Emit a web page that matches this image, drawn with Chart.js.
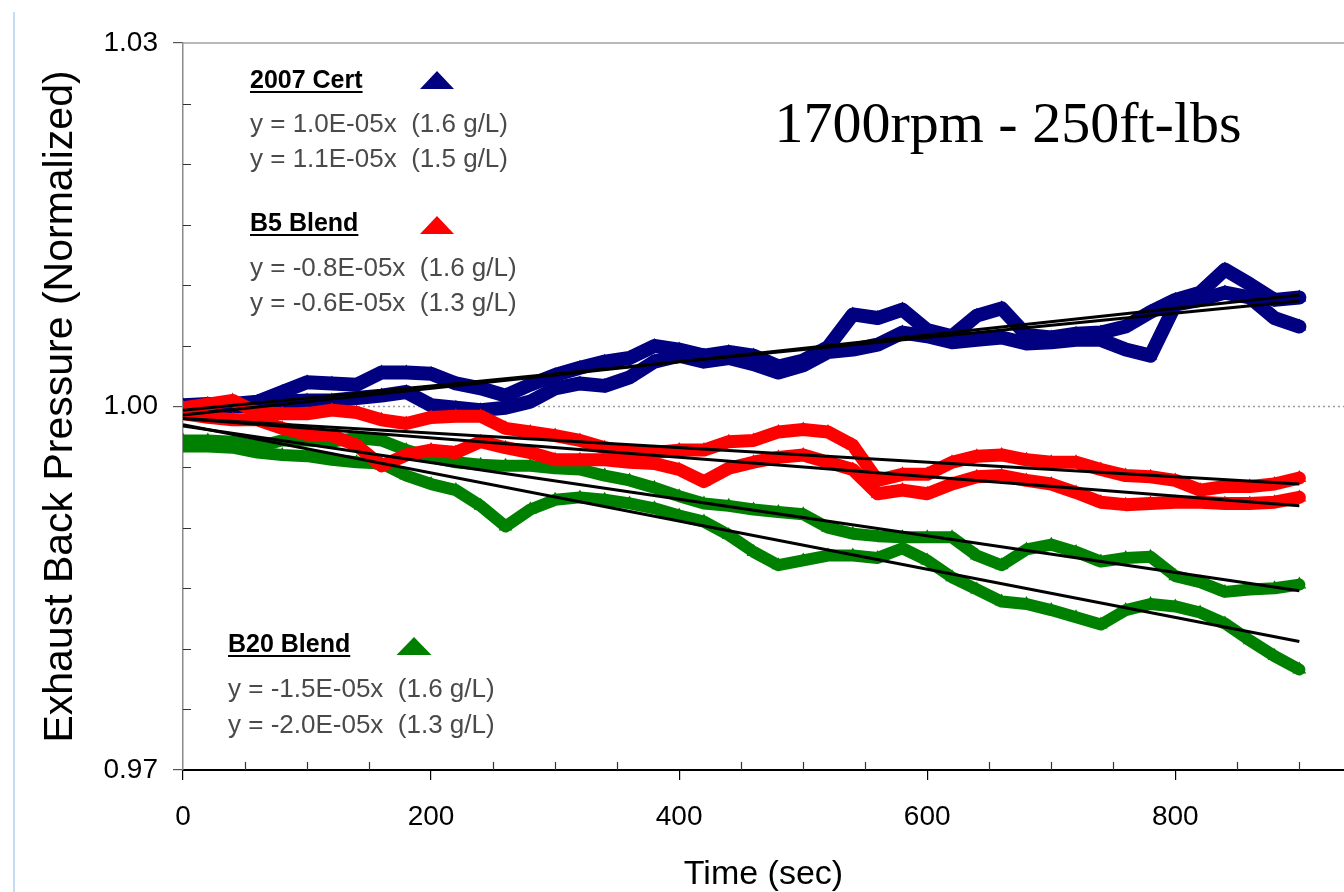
<!DOCTYPE html>
<html>
<head>
<meta charset="utf-8">
<script src="https://cdn.jsdelivr.net/npm/chart.js@4.4.1/dist/chart.umd.min.js"></script>
<style>
  html, body { margin: 0; padding: 0; background: #fff; overflow: hidden; }
  #wrap { position: relative; width: 1344px; height: 892px; overflow: hidden; }
  #frame { position: absolute; left: 13px; top: 12px; width: 2px; height: 880px; background: #c6dcf2; }
  canvas { position: absolute; left: 0; top: 0; }
</style>
</head>
<body>
<div id="wrap">
  <canvas id="chart" width="1352" height="892"></canvas>
  <div id="frame"></div>
</div>
<script>
// sample times (sec)
const times = [0, 20, 40, 60, 80, 100, 120, 140, 160, 180, 200, 220, 240, 260, 280, 300, 320, 340, 360, 380,
  400, 420, 440, 460, 480, 500, 520, 540, 560, 580, 600, 620, 640, 660, 680, 700, 720, 740, 760, 780,
  800, 820, 840, 860, 880, 900]

// 2007 Cert runs
const certA = [1.0001, 1.0002, 1.0002, 1.0004, 1.0012, 1.0020, 1.0019, 1.0018, 1.0028, 1.0028,
  1.0027, 1.0019, 1.0015, 1.0009, 1.0018, 1.0026, 1.0032, 1.0037, 1.0040, 1.0050,
  1.0047, 1.0042, 1.0045, 1.0042, 1.0033, 1.0038, 1.0049, 1.0076, 1.0073, 1.0080,
  1.0063, 1.0058, 1.0075, 1.0081, 1.0059, 1.0057, 1.0060, 1.0061, 1.0066, 1.0078,
  1.0088, 1.0094, 1.0113, 1.0101, 1.0088, 1.0090]
const certB = [0.9999, 1.0000, 1.0000, 1.0001, 1.0004, 1.0005, 1.0005, 1.0007, 1.0009, 1.0012,
  1.0001, 0.9999, 0.9997, 0.9999, 1.0004, 1.0015, 1.0019, 1.0017, 1.0024, 1.0037,
  1.0042, 1.0037, 1.0040, 1.0035, 1.0028, 1.0034, 1.0045, 1.0047, 1.0051, 1.0061,
  1.0058, 1.0053, 1.0055, 1.0057, 1.0052, 1.0053, 1.0055, 1.0055, 1.0047, 1.0042,
  1.0084, 1.0088, 1.0094, 1.0090, 1.0073, 1.0066]

// B5 Blend runs
const b5Upper = [0.9999, 1.0002, 1.0005, 0.9995, 0.9994, 0.9994, 0.9997, 0.9995, 0.9989, 0.9986,
  0.9991, 0.9992, 0.9992, 0.9982, 0.9979, 0.9976, 0.9972, 0.9966, 0.9962, 0.9962,
  0.9964, 0.9964, 0.9971, 0.9972, 0.9979, 0.9981, 0.9979, 0.9968, 0.9939, 0.9944,
  0.9944, 0.9954, 0.9959, 0.9960, 0.9956, 0.9954, 0.9954, 0.9948, 0.9943, 0.9942,
  0.9939, 0.9931, 0.9934, 0.9934, 0.9936, 0.9941]
const b5Lower = [0.9994, 0.9991, 0.9989, 0.9989, 0.9982, 0.9977, 0.9976, 0.9968, 0.9951, 0.9960,
  0.9964, 0.9962, 0.9971, 0.9966, 0.9962, 0.9956, 0.9956, 0.9956, 0.9954, 0.9953,
  0.9948, 0.9938, 0.9949, 0.9954, 0.9958, 0.9960, 0.9954, 0.9948, 0.9928, 0.9931,
  0.9928, 0.9936, 0.9942, 0.9943, 0.9939, 0.9936, 0.9929, 0.9921, 0.9919, 0.9920,
  0.9921, 0.9921, 0.9920, 0.9920, 0.9921, 0.9925]

// B20 Blend runs
const b20Upper = [0.9972, 0.9972, 0.9971, 0.9967, 0.9972, 0.9972, 0.9971, 0.9974, 0.9972, 0.9964,
  0.9958, 0.9954, 0.9952, 0.9951, 0.9951, 0.9949, 0.9948, 0.9943, 0.9939, 0.9933,
  0.9926, 0.9920, 0.9918, 0.9915, 0.9913, 0.9911, 0.9900, 0.9895, 0.9893, 0.9892,
  0.9892, 0.9892, 0.9877, 0.9869, 0.9882, 0.9886, 0.9880, 0.9872, 0.9875, 0.9876,
  0.9860, 0.9855, 0.9847, 0.9849, 0.9850, 0.9853]
const b20Lower = [0.9967, 0.9967, 0.9966, 0.9962, 0.9960, 0.9959, 0.9956, 0.9954, 0.9953, 0.9943,
  0.9936, 0.9931, 0.9918, 0.9901, 0.9915, 0.9923, 0.9925, 0.9923, 0.9920, 0.9916,
  0.9910, 0.9905, 0.9894, 0.9880, 0.9869, 0.9873, 0.9877, 0.9877, 0.9875, 0.9883,
  0.9873, 0.9859, 0.9849, 0.9839, 0.9837, 0.9832, 0.9826, 0.9820, 0.9832, 0.9837,
  0.9835, 0.9830, 0.9821, 0.9807, 0.9794, 0.9783]

// linear fits, start and end of run
const fitTimes = [0, 900]
const certFitA = [0.9993, 1.0092]
const certFitB = [0.9997, 1.0087]
const b5FitA = [0.9990, 0.9918]
const b5FitB = [0.9990, 0.9936]
const b20FitA = [0.9984, 0.9848]
const b20FitB = [0.9985, 0.9806]

const refTimes = [0, 936]
const refLine = [1.00, 1.00]

const xTicks = [0, 200, 400, 600, 800]
const yTicks = [0.97, 1.00, 1.03]
const X_MAX = 936

const FONT = '"Liberation Sans", Arial, sans-serif'
const NAVY = '#000080'
const RED = '#ff0000'
const GREEN = '#008000'

const toPts = (xs, ys) => xs.map((x, i) => ({ x, y: ys[i] }))

function band(label, values, color, width) {
  return {
    label,
    data: toPts(times, values),
    showLine: true,
    borderColor: color,
    backgroundColor: color,
    borderWidth: width,
    borderJoinStyle: 'round',
    borderCapStyle: 'round',
    pointStyle: 'triangle',
    pointRadius: 8,
    pointBorderWidth: 0,
    pointBackgroundColor: color,
    pointBorderColor: color,
    tension: 0
  }
}

function fit(label, values) {
  return {
    label,
    data: toPts(fitTimes, values),
    showLine: true,
    borderColor: '#000',
    borderWidth: 3,
    pointRadius: 0,
    tension: 0
  }
}

// minor tick marks + plot border
const axisExtras = {
  id: 'axisExtras',
  afterDraw(chart) {
    const { ctx, chartArea: a, scales: { x, y } } = chart
    ctx.save()
    ctx.strokeStyle = '#333'
    ctx.lineWidth = 1.2
    ctx.beginPath()
    for (let v = 50; v <= X_MAX; v += 50) {
      if (v % 200 === 0) continue
      const px = Math.round(x.getPixelForValue(v)) + 0.5
      ctx.moveTo(px, a.bottom)
      ctx.lineTo(px, a.bottom - 8)
    }
    for (let k = 1; k < 12; k++) {
      if (k === 6) continue
      const py = Math.round(y.getPixelForValue(0.97 + k * 0.005)) + 0.5
      ctx.moveTo(a.left, py)
      ctx.lineTo(a.left + 8, py)
    }
    ctx.stroke()

    ctx.strokeStyle = '#a0a0a0'
    ctx.lineWidth = 1.5
    ctx.beginPath()
    ctx.moveTo(a.left, a.top)
    ctx.lineTo(a.right, a.top)
    ctx.stroke()
    ctx.restore()
  }
}

// text boxes and series markers drawn on the plot
const notes = {
  id: 'notes',
  afterDraw(chart) {
    const ctx = chart.ctx
    ctx.save()

    const header = (text, x, y) => {
      ctx.font = 'bold 25px ' + FONT
      ctx.fillStyle = '#000'
      ctx.textAlign = 'left'
      ctx.textBaseline = 'alphabetic'
      ctx.fillText(text, x, y)
      const w = ctx.measureText(text).width
      ctx.fillRect(x, y + 3, w, 2)
    }
    const eq = (text, x, y) => {
      ctx.font = '26px ' + FONT
      ctx.fillStyle = '#4a4a4a'
      ctx.textAlign = 'left'
      ctx.textBaseline = 'alphabetic'
      ctx.fillText(text, x, y)
    }
    const tri = (cx, cy, w, h, color) => {
      ctx.fillStyle = color
      ctx.beginPath()
      ctx.moveTo(cx - w / 2, cy + h / 2)
      ctx.lineTo(cx + w / 2, cy + h / 2)
      ctx.lineTo(cx, cy - h / 2)
      ctx.closePath()
      ctx.fill()
    }

    header('2007 Cert', 250, 88)
    tri(437, 80, 34, 18, NAVY)
    eq('y = 1.0E-05x  (1.6 g/L)', 250, 132)
    eq('y = 1.1E-05x  (1.5 g/L)', 250, 167)

    header('B5 Blend', 250, 231)
    tri(437, 225, 34, 18, RED)
    eq('y = -0.8E-05x  (1.6 g/L)', 250, 276)
    eq('y = -0.6E-05x  (1.3 g/L)', 250, 311)

    header('B20 Blend', 228, 652)
    tri(414, 646, 35, 18, GREEN)
    eq('y = -1.5E-05x  (1.6 g/L)', 228, 697)
    eq('y = -2.0E-05x  (1.3 g/L)', 228, 733)

    ctx.font = '58px "Liberation Serif", "Times New Roman", serif'
    ctx.fillStyle = '#000'
    ctx.textAlign = 'center'
    ctx.fillText('1700rpm - 250ft-lbs', 1008, 142)
    ctx.restore()
  }
}

new Chart(document.getElementById('chart'), {
  type: 'scatter',
  data: {
    datasets: [
      fit('Cert fit 1.5', certFitA),
      fit('Cert fit 1.6', certFitB),
      fit('B5 fit 1.6', b5FitA),
      fit('B5 fit 1.3', b5FitB),
      fit('B20 fit 1.6', b20FitA),
      fit('B20 fit 1.3', b20FitB),
      band('B5 1.3', b5Upper, RED, 13),
      band('B5 1.6', b5Lower, RED, 13),
      band('B20 1.6', b20Upper, GREEN, 12),
      band('B20 1.3', b20Lower, GREEN, 12),
      band('2007 Cert 1.5', certA, NAVY, 14),
      band('2007 Cert 1.6', certB, NAVY, 14),
      {
        label: 'baseline',
        data: toPts(refTimes, refLine),
        showLine: true,
        borderColor: '#9a9a9a',
        borderWidth: 1.5,
        borderDash: [2, 3],
        pointRadius: 0
      }
    ]
  },
  options: {
    responsive: false,
    devicePixelRatio: 1,
    animation: false,
    layout: { padding: { top: 43, left: 0, right: 0, bottom: 0 } },
    plugins: {
      legend: { display: false },
      tooltip: { enabled: false }
    },
    scales: {
      x: {
        type: 'linear',
        min: 0,
        max: X_MAX,
        afterBuildTicks: s => { s.ticks = xTicks.map(v => ({ value: v })) },
        afterFit: s => { s.height = 122 },
        ticks: {
          font: { family: FONT, size: 28 },
          color: '#000',
          padding: 20,
          maxRotation: 0,
          callback: v => String(v)
        },
        grid: { drawOnChartArea: false, tickLength: 10, color: '#000', lineWidth: 1.2 },
        border: { color: '#000', width: 2 },
        title: {
          display: true,
          text: 'Time (sec)',
          font: { family: FONT, size: 34 },
          color: '#000',
          padding: { top: 0, bottom: -3 }
        }
      },
      y: {
        type: 'linear',
        min: 0.97,
        max: 1.03,
        afterBuildTicks: s => { s.ticks = yTicks.map(v => ({ value: v })) },
        afterFit: s => { s.width = 183 },
        ticks: {
          font: { family: FONT, size: 28 },
          color: '#000',
          padding: 15,
          callback: v => v.toFixed(2)
        },
        grid: { drawOnChartArea: false, tickLength: 10, color: '#555', lineWidth: 1.2 },
        border: { color: '#8a8a8a', width: 1.5 },
        title: {
          display: true,
          text: 'Exhaust Back Pressure (Normalized)',
          font: { family: FONT, size: 41 },
          color: '#000',
          padding: { top: 36, bottom: 0 }
        }
      }
    }
  },
  plugins: [axisExtras, notes]
})
</script>
</body>
</html>
